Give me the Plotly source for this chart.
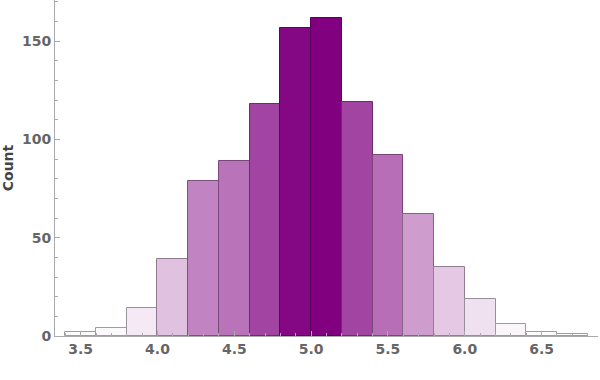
import plotly.graph_objects as go

bin_starts = [3.4, 3.6, 3.8, 4.0, 4.2, 4.4, 4.6, 4.8, 5.0, 5.2, 5.4, 5.6, 5.8, 6.0, 6.2, 6.4, 6.6]
counts = [2, 4, 14, 39, 79, 89, 118, 157, 162, 119, 92, 62, 35, 19, 6, 2, 1]
bin_width = 0.2
y_ticks = [0, 50, 100, 150]
x_ticks = [3.5, 4.0, 4.5, 5.0, 5.5, 6.0, 6.5]

base = (128, 0, 128)
mx = max(counts)

def fill(c):
    a = c / mx
    r, g, b = [round(255 - a * (255 - v)) for v in base]
    return f"rgb({r},{g},{b})"

def edge(c):
    a = c / mx
    gray = (160, 160, 160)
    dark = (90, 0, 90)
    r, g, b = [round(gray[i] * (1 - a) + dark[i] * a) for i in range(3)]
    return f"rgb({r},{g},{b})"

centers = [s + bin_width / 2 for s in bin_starts]

fig = go.Figure(go.Bar(
    x=centers, y=counts, width=[bin_width] * len(counts),
    marker=dict(color=[fill(c) for c in counts],
                line=dict(color=[edge(c) for c in counts], width=1)),
    hoverinfo="skip",
))

tickfont = dict(family="DejaVu Sans", size=14, color="#666666", weight="bold")
fig.update_layout(
    width=600, height=380,
    margin=dict(l=55, r=2, t=0, b=44, autoexpand=False),
    plot_bgcolor="white", paper_bgcolor="white",
    showlegend=False, bargap=0,
    xaxis=dict(range=[3.333, 6.867], tickvals=x_ticks, ticktext=[f"{v:.1f}" for v in x_ticks],
               ticks="inside", ticklen=5, tickcolor="#aaaaaa", showgrid=False, zeroline=False,
               showline=True, linecolor="#aaaaaa", linewidth=1, tickfont=tickfont, automargin=False,
               minor=dict(dtick=0.1, tick0=3.4, ticks="inside", ticklen=3, tickcolor="#aaaaaa", showgrid=False)),
    yaxis=dict(range=[0, 171], tickvals=y_ticks, ticks="inside", ticklen=5, tickcolor="#aaaaaa",
               showgrid=False, zeroline=False, showline=True, linecolor="#aaaaaa", linewidth=1,
               tickfont=tickfont, automargin=False,
               title=dict(text="Count", font=dict(family="DejaVu Sans", size=14, color="#444444", weight="bold"), standoff=14),
               minor=dict(dtick=10, ticks="inside", ticklen=3, tickcolor="#aaaaaa", showgrid=False)),
)

fig.write_html("out.html", config={"displayModeBar": False},
               post_script="document.body.style.margin='0';")
